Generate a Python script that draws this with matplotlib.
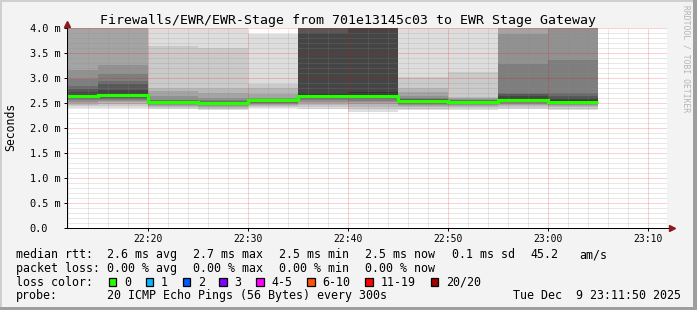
import matplotlib
matplotlib.use("Agg")
import matplotlib.pyplot as plt
from matplotlib.patches import Rectangle

W, H = 697, 310
MONO = "DejaVu Sans Mono"

# ---------------- data ----------------
title = "Firewalls/EWR/EWR-Stage from 701e13145c03 to EWR Stage Gateway"
seg_end = ["22:15", "22:20", "22:25", "22:30", "22:35", "22:40",
           "22:45", "22:50", "22:55", "23:00", "23:05"]
step_min = 5
median_rtt = [2.646, 2.66, 2.53, 2.51, 2.56, 2.65, 2.64, 2.55, 2.53, 2.57, 2.52]

# 20 sorted ping rtts (ms) per 5-minute step
smoke_2215 = [2.41, 2.44, 2.47, 2.50, 2.53, 2.56, 2.58, 2.60, 2.62, 2.64, 2.67, 2.72, 2.78, 2.85, 2.98, 3.16, 4.4, 4.9, 5.6, 6.3]
smoke_2220 = [2.41, 2.45, 2.48, 2.52, 2.55, 2.57, 2.59, 2.61, 2.63, 2.65, 2.70, 2.76, 2.88, 2.93, 3.08, 3.27, 4.5, 5.0, 5.5, 6.2]
smoke_2225 = [2.38, 2.41, 2.43, 2.45, 2.47, 2.48, 2.49, 2.50, 2.51, 2.52, 2.54, 2.545, 2.55, 2.555, 2.56, 2.65, 2.75, 2.81, 3.65, 4.8]
smoke_2230 = [2.37, 2.39, 2.41, 2.43, 2.45, 2.46, 2.47, 2.48, 2.49, 2.50, 2.51, 2.52, 2.53, 2.54, 2.56, 2.61, 2.71, 2.80, 3.61, 4.7]
smoke_2235 = [2.41, 2.43, 2.45, 2.47, 2.49, 2.50, 2.51, 2.52, 2.53, 2.55, 2.57, 2.575, 2.58, 2.585, 2.59, 2.60, 2.68, 2.81, 2.89, 3.89]
smoke_2240 = [2.38, 2.42, 2.46, 2.50, 2.53, 2.56, 2.58, 2.60, 2.62, 2.64, 2.70, 3.91, 4.3, 4.8, 5.2, 5.7, 6.1, 6.8, 7.5, 8.4]
smoke_2245 = [2.33, 2.38, 2.43, 2.48, 2.52, 2.55, 2.58, 2.60, 2.62, 2.63, 2.73, 4.2, 4.6, 5.0, 5.5, 6.0, 6.5, 7.0, 7.7, 8.5]
smoke_2250 = [2.36, 2.39, 2.42, 2.44, 2.46, 2.48, 2.50, 2.52, 2.53, 2.54, 2.56, 2.57, 2.58, 2.59, 2.60, 2.65, 2.72, 2.80, 3.03, 4.6]
smoke_2255 = [2.37, 2.40, 2.42, 2.44, 2.46, 2.48, 2.49, 2.50, 2.51, 2.52, 2.54, 2.545, 2.55, 2.555, 2.56, 2.58, 2.60, 2.63, 3.13, 4.5]
smoke_2300 = [2.38, 2.41, 2.44, 2.47, 2.49, 2.51, 2.53, 2.54, 2.55, 2.56, 2.60, 2.64, 2.68, 2.71, 3.27, 3.88, 4.5, 5.1, 5.8, 6.6]
smoke_2305 = [2.36, 2.39, 2.42, 2.44, 2.46, 2.48, 2.49, 2.50, 2.51, 2.52, 2.56, 2.60, 2.65, 2.71, 3.36, 4.3, 4.8, 5.4, 6.0, 6.9]
smoke = [smoke_2215, smoke_2220, smoke_2225, smoke_2230, smoke_2235, smoke_2240,
         smoke_2245, smoke_2250, smoke_2255, smoke_2300, smoke_2305]

time_ticks = ["22:20", "22:30", "22:40", "22:50", "23:00", "23:10"]
y_ticks = [0.0, 0.5, 1.0, 1.5, 2.0, 2.5, 3.0, 3.5, 4.0]
y_labels = ["0.0", "0.5 m", "1.0 m", "1.5 m", "2.0 m", "2.5 m", "3.0 m", "3.5 m", "4.0 m"]

rtt_items = ["2.6 ms avg", "2.7 ms max", "2.5 ms min", "2.5 ms now", "0.1 ms sd", "45.2", "am/s"]
loss_items = ["0.00 % avg", "0.00 % max", "0.00 % min", "0.00 % now"]
loss_labels = ["0", "1", "2", "3", "4-5", "6-10", "11-19", "20/20"]
loss_colors = ["#26ff00", "#00b8ff", "#0059ff", "#7e00ff", "#ff00ff", "#ff5500", "#ff0000", "#a10000"]
probe_text = "20 ICMP Echo Pings (56 Bytes) every 300s"
stamp_text = "Tue Dec  9 23:11:50 2025"


def to_min(s):
    h, m = s.split(":")
    return (int(h) - 22) * 60 + int(m)


def fx(x):
    return x / W


def fy(y):
    return 1 - y / H


# ---------------- figure ----------------
fig = plt.figure(figsize=(W / 100, H / 100), dpi=100, facecolor="#f3f3f3")
ax = fig.add_axes([fx(67), fy(228), 600 / W, 200 / H])
ax.set_facecolor("white")
ax.set_xlim(11.93, 71.93)
ax.set_ylim(0, 4.0)

ends = [to_min(s) for s in seg_end]
starts = [e - step_min for e in ends]

# smoke layers (SmokePing style)
npings = len(smoke_2215)
half = npings // 2
for i in range(1, half + 1):
    g = int(190 / half * (half - i)) + 50
    col = "#%02x%02x%02x" % (g, g, g)
    lo = [sorted(p)[i - 1] for p in smoke]
    hi = [sorted(p)[npings - i] for p in smoke]
    ax.bar(starts, [h - l for h, l in zip(hi, lo)], bottom=lo, width=step_min,
           align="edge", color=col, linewidth=0, antialiased=False, zorder=1)

# median line
edges = starts + [ends[-1]]
ax.stairs(median_rtt, edges, baseline=None, color=loss_colors[0], linewidth=2.3, zorder=3)

# grid
major_x = [to_min(s) for s in time_ticks]
minor_x = list(range(12, 72, 2))
ax.set_xticks(major_x)
ax.set_xticklabels(time_ticks)
ax.set_xticks(minor_x, minor=True)
ax.set_yticks(y_ticks)
ax.set_yticklabels(y_labels)
ax.set_yticks([k / 10 for k in range(0, 41)], minor=True)
ax.set_axisbelow(False)
ax.grid(which="minor", color="#8a8a8a", alpha=0.38, linewidth=0.72, linestyle=(0, (1, 1)), zorder=2)
ax.grid(which="major", color="#ff0000", alpha=0.38, linewidth=0.72, linestyle=(0, (1, 1)), zorder=2)

for sp in ("top", "right"):
    ax.spines[sp].set_visible(False)
for sp in ("left", "bottom"):
    ax.spines[sp].set_color("black")
    ax.spines[sp].set_linewidth(0.72)
    ax.spines[sp].set_zorder(4)

ax.tick_params(axis="both", which="major", direction="out", length=2.2, width=0.72, color="black")
ax.tick_params(axis="both", which="minor", length=0)
ax.tick_params(axis="x", which="major", pad=2.3, labelsize=7.0)
ax.tick_params(axis="y", which="major", pad=24.8, labelsize=7.4)
for lab in ax.get_xticklabels():
    lab.set_family(MONO)
for lab in ax.get_yticklabels():
    lab.set_family(MONO)
    lab.set_horizontalalignment("left")
    lab.set_verticalalignment("center_baseline")

# axis arrows
ax.plot([1.0, 1.008], [0, 0], transform=ax.transAxes, color="black", lw=0.72, clip_on=False, zorder=4)
ax.plot([1.0075], [0], marker=">", markersize=4, color="#8b1a1a", transform=ax.transAxes, clip_on=False, zorder=5)
ax.plot([0, 0], [1.0, 1.015], transform=ax.transAxes, color="black", lw=0.72, clip_on=False, zorder=4)
ax.plot([0], [1.02], marker="^", markersize=4, color="#8b1a1a", transform=ax.transAxes, clip_on=False, zorder=5)

# title & y label
fig.text(fx(348), fy(24), title, ha="center", va="baseline", fontsize=9.55, family=MONO)
fig.text(fx(11), fy(127), "Seconds", rotation=90, ha="center", va="center", fontsize=8.3, family=MONO)
fig.text(fx(686), fy(5), "RRDTOOL / TOBI OETIKER", rotation=270, ha="center", va="top",
         fontsize=5.8, family=MONO, color="#b4b4b4")

# legend
LF = 8.4
base = [258.3, 271.8, 285.5, 299.2]
fig.text(fx(16), fy(base[0]), "median rtt:", fontsize=LF, family=MONO, va="baseline")
for s, x in zip(rtt_items, [107, 193.2, 279.3, 365.3, 451.7, 530, 579]):
    fig.text(fx(x), fy(base[0]), s, fontsize=LF, family=MONO, va="baseline")
fig.text(fx(16), fy(base[1]), "packet loss:", fontsize=LF, family=MONO, va="baseline")
for s, x in zip(loss_items, [107, 193.2, 279.3, 365.3]):
    fig.text(fx(x), fy(base[1]), s, fontsize=LF, family=MONO, va="baseline")
fig.text(fx(16), fy(base[2]), "loss color:", fontsize=LF, family=MONO, va="baseline")
box_x = [108.7, 145.7, 182.7, 219.3, 256.3, 307.0, 365.3, 430.7]
for s, c, x in zip(loss_labels, loss_colors, box_x):
    fig.add_artist(Rectangle((fx(x), fy(285.8)), 7.6 / W, 8.0 / H, transform=fig.transFigure,
                             facecolor=c, edgecolor="black", linewidth=0.9))
    fig.text(fx(x + 15.3), fy(base[2]), s, fontsize=LF, family=MONO, va="baseline")
fig.text(fx(16), fy(base[3]), "probe:", fontsize=LF, family=MONO, va="baseline")
fig.text(fx(107), fy(base[3]), probe_text, fontsize=LF, family=MONO, va="baseline")
fig.text(fx(513.3), fy(base[3]), stamp_text, fontsize=LF, family=MONO, va="baseline")

# 3D frame
for (x, y, w, h, c) in [(0, 0, W, 2, "#cfcfcf"), (0, 0, 2, H, "#cfcfcf"),
                        (W - 4, 0, 4, H, "#9e9e9e"), (0, H - 3, W, 3, "#9e9e9e")]:
    fig.add_artist(Rectangle((fx(x), fy(y + h)), w / W, h / H, transform=fig.transFigure,
                             facecolor=c, edgecolor="none", linewidth=0))

fig.savefig("out.png", dpi=100, facecolor=fig.get_facecolor())
